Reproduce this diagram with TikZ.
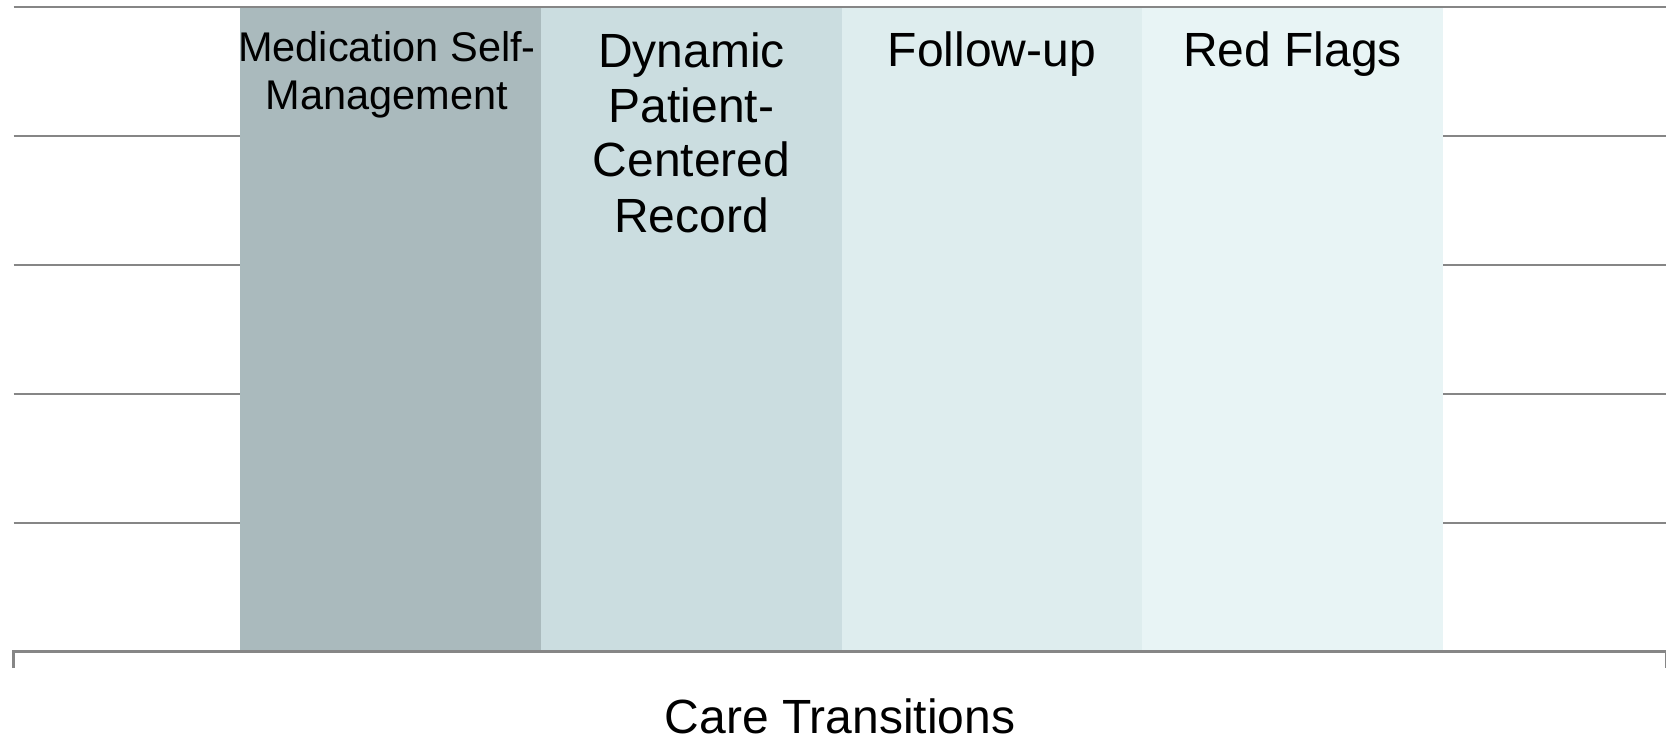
\documentclass[tikz,border=0pt]{standalone}
\usepackage{fontspec}
\setmainfont{Liberation Sans}
\definecolor{gridgray}{RGB}{134,134,134}
\definecolor{barA}{RGB}{170,186,189}
\definecolor{barB}{RGB}{203,221,224}
\definecolor{barC}{RGB}{222,237,238}
\definecolor{barD}{RGB}{232,244,245}
\begin{document}
\begin{tikzpicture}[x=1pt,y=-1pt,
  gridline/.style={draw=gridgray,line width=2pt},
  axisline/.style={draw=gridgray,line width=3pt},
  barlabel/.style={anchor=base,align=center,inner sep=0pt,font=\fontsize{48}{55}\selectfont},
  smalllabel/.style={anchor=base,align=center,inner sep=0pt,font=\fontsize{41.5}{48.5}\selectfont}]
\useasboundingbox (0,0) rectangle (1666,741);
% horizontal gridlines behind the columns
\foreach \gy in {7.5,136,265,394,522.7}
  \draw[gridline] (13.5,\gy) -- (1666,\gy);
% columns
\fill[barA] (240,8.5) rectangle (541,649.5);
\fill[barB] (541,8.5) rectangle (842,649.5);
\fill[barC] (842,8.5) rectangle (1142,649.5);
\fill[barD] (1142,8.5) rectangle (1443,649.5);
% category axis with end ticks
\coordinate (axL) at (13.5,668);
\coordinate (axR) at (1666,668);
\draw[axisline] (axL) -- (13.5,651) -- (1666,651) -- (axR);
% column labels (base anchor sits on the last line)
\node[smalllabel] (med) at (387,110) {Medication Self-\\Management};
\node[barlabel] (dyn) at (691.5,232) {Dynamic\\Patient-\\Centered\\Record};
\node[barlabel] (fol) at (992,67) {Follow-up};
\node[barlabel] (red) at (1292.5,67) {Red Flags};
% axis title
\node[barlabel] (title) at (840,733) {Care Transitions};
\end{tikzpicture}
\end{document}
